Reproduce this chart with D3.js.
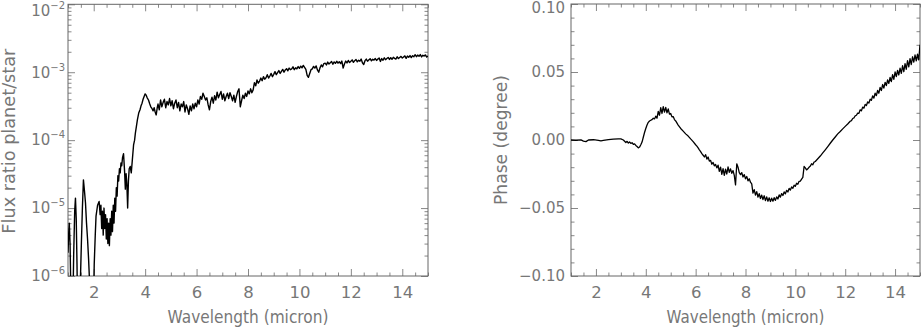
<!DOCTYPE html>
<html>
<head>
<meta charset="utf-8">
<script src="https://cdn.jsdelivr.net/npm/d3@7"></script>
<style>
  body { margin: 0; background: #fff; }
  svg text { font-family: "DejaVu Sans", sans-serif; fill: #777; }
</style>
</head>
<body>
<div id="chart"></div>
<script>
// flux ratio planet/star (left panel)
const fluxWave = [
  1.00,1.03,1.05,1.08,1.11,1.14,1.18,1.22,1.26,1.29,
  1.32,1.35,1.38,1.44,1.48,1.52,1.56,1.60,1.64,1.68,
  1.72,1.76,1.80,1.84,1.88,1.98,2.02,2.06,2.09,2.15,
  2.21,2.25,2.28,2.31,2.34,2.37,2.40,2.43,2.46,2.49,
  2.52,2.55,2.58,2.61,2.64,2.67,2.70,2.73,2.76,2.79,
  2.82,2.85,2.88,2.91,2.94,2.97,3.00,3.03,3.06,3.09,
  3.12,3.16,3.20,3.23,3.26,3.29,3.32,3.35,3.38,3.42,
  3.46,3.50,3.55,3.59,3.62,3.66,3.70,3.75,3.80,3.84,
  3.88,3.92,3.96,4.00,4.04,4.08,4.13,4.18,4.22,4.27,
  4.31,4.35,4.39,4.43,4.47,4.50,
  4.55,4.60,4.65,4.70,4.75,4.80,4.85,4.90,4.95,5.00,
  5.05,5.10,5.15,5.20,5.25,5.30,5.35,5.40,5.45,5.50,
  5.55,5.60,5.65,5.70,5.75,5.80,5.85,5.90,5.95,6.00,
  6.05,6.10,6.15,6.20,6.25,6.30,6.35,6.40,6.45,6.50,
  6.55,6.60,6.65,6.70,6.75,6.80,6.85,6.90,6.95,7.00,
  7.05,7.10,7.15,7.20,7.25,7.30,7.35,7.40,7.45,7.50,
  7.55,7.60,7.65,7.70,7.75,7.80,7.85,7.90,7.95,8.00,
  8.05,8.10,8.15,8.20,8.25,8.30,8.35,8.40,8.45,8.50,
  8.55,8.60,8.65,8.70,8.75,8.80,8.85,8.90,8.95,9.00,
  9.05,9.10,9.15,9.20,9.25,9.30,9.35,9.40,9.45,9.50,
  9.55,9.60,9.65,9.70,9.75,9.80,9.85,9.90,9.95,10.00,
  10.05,10.10,10.15,10.20,10.25,10.30,10.35,10.40,10.45,10.50,
  10.55,10.60,10.65,10.70,10.75,10.80,10.85,10.90,10.95,11.00,
  11.05,11.10,11.15,11.20,11.25,11.30,11.35,11.40,11.45,11.50,
  11.55,11.60,11.65,11.70,11.75,11.80,11.85,11.90,11.95,12.00,
  12.05,12.10,12.15,12.20,12.25,12.30,12.35,12.40,12.45,12.50,
  12.55,12.60,12.65,12.70,12.75,12.80,12.85,12.90,12.95,13.00,
  13.05,13.10,13.15,13.20,13.25,13.30,13.35,13.40,13.45,13.50,
  13.55,13.60,13.65,13.70,13.75,13.80,13.85,13.90,13.95,14.00,
  14.05,14.10,14.15,14.20,14.25,14.30,14.35,14.40,14.45,14.50,
  14.55,14.60,14.65,14.70,14.75,14.80,14.85,14.90,14.95,15.00
];
const fluxRatio = [
  2.2e-6,4.5e-6,6.0e-6,3.0e-6,6e-7,2e-7,2e-7,2e-6,9e-6,1.4e-5,
  7e-6,1.5e-6,2e-7,2e-7,8e-7,3e-6,1.0e-5,2.6e-5,1.8e-5,1.2e-5,
  6e-6,3.5e-6,1.8e-6,8e-7,2e-7,2e-7,1.5e-6,4e-6,7.6e-6,1.1e-5,
  1.25e-5,8e-6,1.1e-5,5e-6,9e-6,4e-6,1.0e-5,5e-6,8e-6,3.5e-6,
  7e-6,3e-6,6e-6,2.8e-6,7e-6,4e-6,9e-6,4.5e-6,1.1e-5,6e-6,
  1.4e-5,9e-6,2e-5,1.5e-5,3e-5,2.5e-5,3.8e-5,3.3e-5,4.6e-5,4.2e-5,
  5.5e-5,6.3e-5,3.5e-5,1.9e-5,3.2e-5,2.2e-5,1.0e-5,2.5e-5,3.8e-5,4.1e-5,
  3.3e-5,5.0e-5,8.5e-5,1.0e-4,1.27e-4,1.6e-4,2.0e-4,2.5e-4,2.8e-4,3.2e-4,
  3.5e-4,4.0e-4,4.4e-4,4.8e-4,4.6e-4,4.2e-4,3.9e-4,3.4e-4,3.1e-4,2.9e-4,
  2.7e-4,3.0e-4,2.6e-4,2.35e-4,3.0e-4,3.4e-4,
  2.8e-4,3.9e-4,3.1e-4,3.6e-4,4.0e-4,3.0e-4,3.7e-4,3.3e-4,4.1e-4,3.2e-4,
  3.8e-4,2.9e-4,3.5e-4,3.9e-4,3.0e-4,3.6e-4,2.7e-4,3.4e-4,3.1e-4,3.7e-4,
  2.6e-4,3.3e-4,2.9e-4,2.4e-4,3.2e-4,2.7e-4,3.4e-4,2.9e-4,3.5e-4,3.1e-4,
  3.9e-4,3.4e-4,4.4e-4,4.0e-4,4.9e-4,4.4e-4,3.9e-4,4.2e-4,3.3e-4,2.8e-4,
  3.7e-4,4.3e-4,3.5e-4,4.5e-4,3.9e-4,5.1e-4,4.2e-4,4.7e-4,5.2e-4,4.0e-4,
  4.8e-4,3.8e-4,4.4e-4,4.9e-4,4.1e-4,5.0e-4,4.4e-4,3.8e-4,4.6e-4,3.6e-4,
  4.4e-4,5.2e-4,5.7e-4,3.1e-4,3.8e-4,4.6e-4,4.1e-4,4.9e-4,4.4e-4,5.3e-4,
  4.8e-4,5.7e-4,5.0e-4,5.5e-4,7.0e-4,6.3e-4,7.7e-4,6.9e-4,7.4e-4,8.2e-4,
  7.5e-4,8.6e-4,7.9e-4,8.3e-4,9.2e-4,8.2e-4,8.8e-4,9.6e-4,8.6e-4,9.3e-4,
  10.2e-4,9.2e-4,9.9e-4,10.6e-4,9.6e-4,10.3e-4,11.0e-4,10.0e-4,10.8e-4,11.3e-4,
  10.5e-4,11.5e-4,10.9e-4,11.2e-4,12.0e-4,10.9e-4,11.6e-4,11.2e-4,12.1e-4,11.4e-4,
  12.3e-4,11.6e-4,12.6e-4,11.8e-4,11.0e-4,9.0e-4,8.4e-4,9.6e-4,10.9e-4,11.2e-4,
  12.2e-4,11.5e-4,12.4e-4,10.8e-4,10.0e-4,11.6e-4,12.8e-4,12.0e-4,13.4e-4,13.6e-4,
  12.8e-4,14.1e-4,13.2e-4,13.8e-4,14.4e-4,13.1e-4,14.2e-4,13.5e-4,14.5e-4,13.6e-4,
  14.3e-4,13.4e-4,14.6e-4,11.5e-4,13.2e-4,14.6e-4,13.7e-4,14.9e-4,13.9e-4,14.5e-4,
  15.2e-4,14.0e-4,14.8e-4,15.4e-4,14.2e-4,15.0e-4,14.5e-4,15.6e-4,13.8e-4,13.0e-4,
  14.8e-4,15.6e-4,14.5e-4,15.2e-4,15.8e-4,14.7e-4,15.5e-4,15.1e-4,15.9e-4,14.9e-4,
  15.6e-4,16.2e-4,14.4e-4,15.9e-4,15.0e-4,16.3e-4,15.3e-4,15.9e-4,16.5e-4,15.4e-4,
  16.4e-4,15.5e-4,16.6e-4,16.0e-4,15.6e-4,16.9e-4,15.9e-4,16.5e-4,17.1e-4,16.2e-4,
  16.8e-4,17.4e-4,16.0e-4,17.3e-4,16.6e-4,17.6e-4,16.4e-4,17.5e-4,16.9e-4,18.1e-4,
  16.9e-4,17.9e-4,17.2e-4,18.2e-4,16.8e-4,17.8e-4,17.3e-4,18.0e-4,16.7e-4,17.4e-4
];

// phase (right panel)
const phaseWave = [
  1.0,1.2,1.4,1.5,1.6,1.7,1.9,2.1,2.2,2.3,
  2.5,2.7,2.9,3.0,3.1,3.2,3.25,3.3,3.35,3.4,
  3.45,3.5,3.55,3.6,3.65,3.7,3.75,3.8,3.85,3.9,
  3.95,4.0,4.05,4.1,4.15,4.2,4.25,4.3,4.35,4.4,
  4.45,4.5,4.55,4.6,4.65,4.7,4.75,4.8,4.85,4.9,
  4.95,5.0,5.05,5.1,5.15,5.2,5.3,5.4,5.5,5.6,
  5.7,5.8,5.9,6.0,6.05,6.1,6.15,6.2,6.25,6.3,
  6.35,6.4,6.45,6.5,6.55,6.6,6.65,6.7,6.75,6.8,
  6.85,6.9,6.95,7.0,7.05,7.1,7.15,7.2,7.25,7.3,
  7.35,7.4,7.45,7.5,7.55,7.6,7.65,7.7,7.75,7.8,
  7.85,7.9,7.95,8.0,8.05,8.1,8.15,8.2,8.25,8.3,
  8.35,8.4,8.45,8.5,8.55,8.6,8.65,8.7,8.75,8.8,
  8.85,8.9,8.95,9.0,9.05,9.1,9.15,9.2,9.25,9.3,
  9.35,9.4,9.45,9.5,9.55,9.6,9.65,9.7,9.75,9.8,
  9.85,9.9,9.95,10.0,10.05,10.1,10.15,10.2,10.25,10.3,
  10.35,10.4,10.45,10.5,10.55,10.6,10.65,10.7,10.75,10.8,
  10.9,11.0,11.1,11.2,11.3,11.4,11.5,11.6,11.7,11.8,
  11.9,12.0,12.1,12.2,12.25,12.3,12.35,12.4,12.45,12.5,
  12.55,12.6,12.65,12.7,12.75,12.8,12.85,12.9,12.95,13.0,
  13.05,13.1,13.15,13.2,13.25,13.3,13.35,13.4,13.45,13.5,
  13.55,13.6,13.65,13.7,13.75,13.8,13.85,13.9,13.95,14.0,
  14.05,14.1,14.15,14.2,14.25,14.3,14.35,14.4,14.45,14.5,
  14.55,14.6,14.65,14.7,14.75,14.8,14.85,14.9,14.95,15.0
];
const phaseDeg = [
  0.0000,-0.0002,0.0001,-0.0008,-0.0012,0.0000,0.0002,-0.0002,-0.0006,-0.0003,
  0.0003,0.0007,0.0009,0.0008,0.0000,-0.0018,-0.0010,-0.0022,-0.0015,-0.0025,
  -0.0020,-0.0032,-0.0028,-0.0040,-0.0048,-0.0058,-0.0052,-0.0035,-0.0015,0.0020,
  0.0055,0.0085,0.0110,0.0130,0.0140,0.0145,0.0150,0.0160,0.0155,0.0175,
  0.0160,0.0210,0.0182,0.0238,0.0195,0.0245,0.0205,0.0240,0.0200,0.0228,
  0.0190,0.0195,0.0170,0.0172,0.0150,0.0140,0.0110,0.0085,0.0065,0.0045,
  0.0029,0.0008,-0.0012,-0.0035,-0.0045,-0.0058,-0.0072,-0.0085,-0.0100,-0.0112,
  -0.0125,-0.0108,-0.0140,-0.0125,-0.0155,-0.0150,-0.0178,-0.0165,-0.0190,-0.0180,
  -0.0205,-0.0185,-0.0230,-0.0200,-0.0252,-0.0210,-0.0260,-0.0215,-0.0250,-0.0198,
  -0.0238,-0.0212,-0.0245,-0.0225,-0.0260,-0.0330,-0.0175,-0.0200,-0.0240,-0.0255,
  -0.0240,-0.0272,-0.0255,-0.0285,-0.0268,-0.0300,-0.0285,-0.0310,-0.0322,-0.0390,
  -0.0365,-0.0405,-0.0380,-0.0420,-0.0395,-0.0430,-0.0405,-0.0438,-0.0410,-0.0446,
  -0.0418,-0.0450,-0.0425,-0.0452,-0.0428,-0.0450,-0.0424,-0.0444,-0.0418,-0.0434,
  -0.0404,-0.0420,-0.0394,-0.0408,-0.0382,-0.0396,-0.0370,-0.0382,-0.0356,-0.0368,
  -0.0345,-0.0355,-0.0332,-0.0340,-0.0318,-0.0325,-0.0304,-0.0302,-0.0288,-0.0275,
  -0.0195,-0.0205,-0.0220,-0.0212,-0.0200,-0.0192,-0.0175,-0.0182,-0.0162,-0.0158,
  -0.0138,-0.0118,-0.0095,-0.0072,-0.0048,-0.0024,0.0000,0.0022,0.0045,0.0063,
  0.0082,0.0100,0.0118,0.0138,0.0142,0.0158,0.0162,0.0178,0.0182,0.0198,
  0.0196,0.0222,0.0215,0.0242,0.0234,0.0262,0.0254,0.0280,0.0272,0.0300,
  0.0292,0.0324,0.0308,0.0344,0.0326,0.0364,0.0344,0.0386,0.0364,0.0408,
  0.0382,0.0424,0.0400,0.0442,0.0416,0.0460,0.0430,0.0480,0.0446,0.0500,
  0.0466,0.0512,0.0478,0.0528,0.0490,0.0546,0.0502,0.0562,0.0520,0.0584,
  0.0538,0.0598,0.0555,0.0612,0.0572,0.0625,0.0582,0.0632,0.0590,0.0700
];

// tick labels
const waveTicks = [2, 4, 6, 8, 10, 12, 14];
const fluxTicks = [1e-6, 1e-5, 1e-4, 1e-3, 1e-2];
const fluxTickExp = ['\u22126', '\u22125', '\u22124', '\u22123', '\u22122'];
const phaseTicks = [-0.10, -0.05, 0.00, 0.05, 0.10];

const W = 921, H = 328;
const frameColor = '#666';
const tickColor = '#888';

const svg = d3.select('#chart').append('svg')
    .attr('width', W)
    .attr('height', H);

const boxL = { x0: 68, x1: 428, y0: 4.3, y1: 276 };
const boxR = { x0: 571, x1: 920, y0: 4, y1: 276 };

const xL = d3.scaleLinear().domain([1, 15]).range([boxL.x0, boxL.x1]);
const yL = d3.scaleLog().domain([1e-6, 1e-2]).range([boxL.y1, boxL.y0]);
const xR = d3.scaleLinear().domain([1, 15]).range([boxR.x0, boxR.x1]);
const yR = d3.scaleLinear().domain([-0.1, 0.1]).range([boxR.y1, boxR.y0]);

// ticks on all four sides, pointing inwards (IDL style)
function drawAxes(box, x, y, yMajor, yMinor) {
    const g = svg.append('g');
    const xMinor = x.ticks(28).filter(d => !waveTicks.includes(d));
    const style = sel => {
        sel.select('.domain').remove();
        sel.selectAll('line').attr('stroke', tickColor);
    };

    g.append('g').attr('transform', `translate(0,${box.y1})`)
        .call(d3.axisBottom(x).tickValues(xMinor).tickSize(-3.5).tickFormat('')).call(style);
    g.append('g').attr('transform', `translate(0,${box.y1})`)
        .call(d3.axisBottom(x).tickValues(waveTicks).tickSize(-7).tickPadding(10.5))
        .call(style)
        .selectAll('text').attr('font-size', 16.5).attr('fill', '#777');
    g.append('g').attr('transform', `translate(0,${box.y0})`)
        .call(d3.axisTop(x).tickValues(xMinor).tickSize(-3.5).tickFormat('')).call(style);
    g.append('g').attr('transform', `translate(0,${box.y0})`)
        .call(d3.axisTop(x).tickValues(waveTicks).tickSize(-7).tickFormat('')).call(style);

    g.append('g').attr('transform', `translate(${box.x0},0)`)
        .call(d3.axisLeft(y).tickValues(yMinor).tickSize(-3.5).tickFormat('')).call(style);
    g.append('g').attr('transform', `translate(${box.x1},0)`)
        .call(d3.axisRight(y).tickValues(yMinor).tickSize(-3.5).tickFormat('')).call(style);
    g.append('g').attr('transform', `translate(${box.x1},0)`)
        .call(d3.axisRight(y).tickValues(yMajor).tickSize(-7).tickFormat('')).call(style);

    const left = g.append('g').attr('transform', `translate(${box.x0},0)`);
    g.append('rect')
        .attr('x', box.x0).attr('y', box.y0)
        .attr('width', box.x1 - box.x0).attr('height', box.y1 - box.y0)
        .attr('fill', 'none').attr('stroke', frameColor).attr('stroke-width', 1);
    return left;
}

// left panel
const fluxMinor = yL.ticks().filter(d => !fluxTicks.some(t => Math.abs(t - d) / t < 1e-6));
const leftAxis = drawAxes(boxL, xL, yL, fluxTicks, fluxMinor);
leftAxis.call(d3.axisLeft(yL).tickValues(fluxTicks).tickSize(-7).tickPadding(3).tickFormat(''))
    .call(sel => {
        sel.select('.domain').remove();
        sel.selectAll('line').attr('stroke', tickColor);
    });
leftAxis.selectAll('.tick text').each(function (d, i) {
    const t = d3.select(this).attr('font-size', 15).attr('fill', '#777');
    if (i === fluxTicks.length - 1) t.attr('y', 6);
    t.append('tspan').text('10');
    t.append('tspan').attr('dy', -7).attr('font-size', 10).text(fluxTickExp[i]);
});

// right panel
const phaseMinor = yR.ticks(20).filter(d => !phaseTicks.some(t => Math.abs(t - d) < 1e-9));
const rightAxis = drawAxes(boxR, xR, yR, phaseTicks, phaseMinor);
rightAxis.call(d3.axisLeft(yR).tickValues(phaseTicks).tickSize(-7).tickPadding(6).tickFormat(d3.format('.2f')))
    .call(sel => {
        sel.select('.domain').remove();
        sel.selectAll('line').attr('stroke', tickColor);
    });
rightAxis.selectAll('.tick text').attr('font-size', 15).attr('fill', '#777')
    .filter(d => d === 0.10).attr('y', 3.5);

// clip + lines
const defs = svg.append('defs');
defs.append('clipPath').attr('id', 'clipL').append('rect')
    .attr('x', boxL.x0).attr('y', boxL.y0)
    .attr('width', boxL.x1 - boxL.x0).attr('height', boxL.y1 - boxL.y0);
defs.append('clipPath').attr('id', 'clipR').append('rect')
    .attr('x', boxR.x0).attr('y', boxR.y0)
    .attr('width', boxR.x1 - boxR.x0).attr('height', boxR.y1 - boxR.y0);

const fluxLine = d3.line()
    .x((d, i) => xL(fluxWave[i]))
    .y(d => yL(d));
svg.append('path')
    .datum(fluxRatio)
    .attr('clip-path', 'url(#clipL)')
    .attr('fill', 'none')
    .attr('stroke', '#000')
    .attr('stroke-width', 1.4)
    .attr('stroke-linejoin', 'round')
    .attr('d', fluxLine);

const phaseLine = d3.line()
    .x((d, i) => xR(phaseWave[i]))
    .y(d => yR(d));
svg.append('path')
    .datum(phaseDeg)
    .attr('clip-path', 'url(#clipR)')
    .attr('fill', 'none')
    .attr('stroke', '#000')
    .attr('stroke-width', 1.3)
    .attr('stroke-linejoin', 'round')
    .attr('d', phaseLine);

// axis titles
svg.append('text')
    .attr('x', (boxL.x0 + boxL.x1) / 2).attr('y', 323)
    .attr('text-anchor', 'middle').attr('font-size', 17)
    .attr('textLength', 161).attr('lengthAdjust', 'spacingAndGlyphs')
    .text('Wavelength (micron)');
svg.append('text')
    .attr('x', (boxR.x0 + boxR.x1) / 2).attr('y', 323)
    .attr('text-anchor', 'middle').attr('font-size', 17)
    .attr('textLength', 158).attr('lengthAdjust', 'spacingAndGlyphs')
    .text('Wavelength (micron)');
svg.append('text')
    .attr('transform', `translate(15,${(boxL.y0 + boxL.y1) / 2 + 1}) rotate(-90)`)
    .attr('text-anchor', 'middle').attr('font-size', 17)
    .attr('textLength', 185).attr('lengthAdjust', 'spacingAndGlyphs')
    .text('Flux ratio planet/star');
svg.append('text')
    .attr('transform', `translate(506.5,${(boxR.y0 + boxR.y1) / 2}) rotate(-90)`)
    .attr('text-anchor', 'middle').attr('font-size', 17)
    .attr('textLength', 130).attr('lengthAdjust', 'spacingAndGlyphs')
    .text('Phase (degree)');
</script>
</body>
</html>
